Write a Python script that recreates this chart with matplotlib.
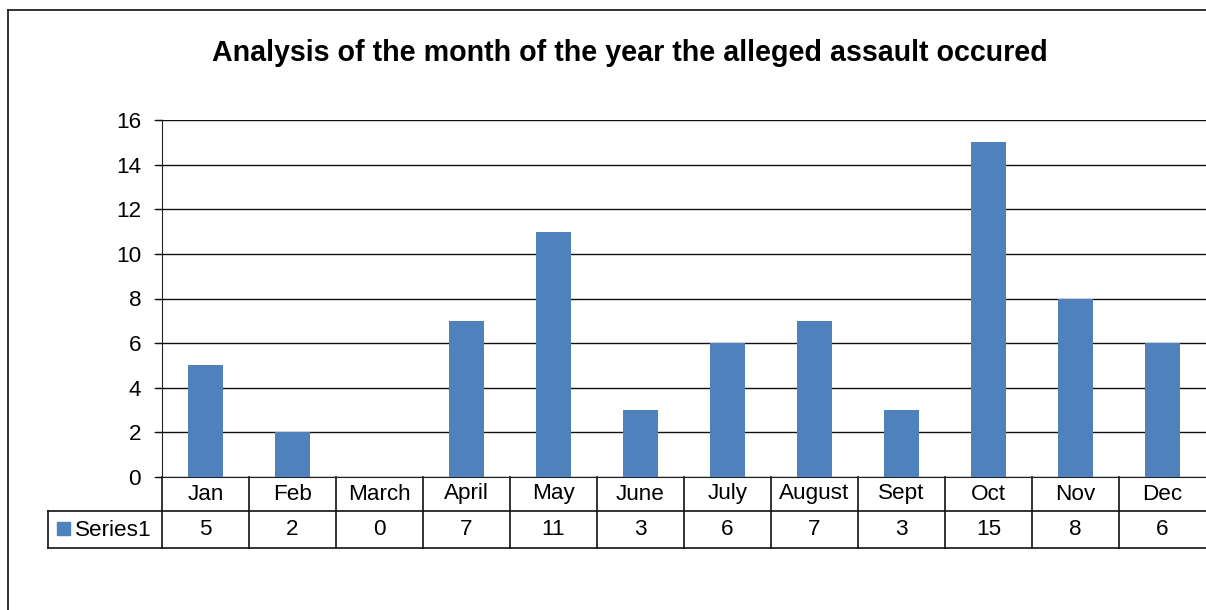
import matplotlib.pyplot as plt
from matplotlib.lines import Line2D
from matplotlib.patches import Rectangle
import matplotlib.transforms as mtransforms

months = ['Jan', 'Feb', 'March', 'April', 'May', 'June',
          'July', 'August', 'Sept', 'Oct', 'Nov', 'Dec']
counts = [5, 2, 0, 7, 11, 3, 6, 7, 3, 15, 8, 6]
series_name = 'Series1'
title = 'Analysis of the month of the year the alleged assault occured'

plt.rcParams['font.family'] = ['Liberation Sans', 'DejaVu Sans']

W, H = 1206, 610
fig = plt.figure(figsize=(W / 100, H / 100), dpi=100)

# outer chart border (right and bottom run off the image)
fig.add_artist(Line2D([7.5 / W, 1.01], [1 - 9.5 / H, 1 - 9.5 / H], color='#222222', lw=1.3))
fig.add_artist(Line2D([7.5 / W, 7.5 / W], [1 - 9.5 / H, -0.01], color='#222222', lw=1.3))

fig.text(630 / W, 1 - 53 / H, title, ha='center', va='center',
         fontsize=20.6, fontweight='bold')

left, right, top, bottom = 162, 1206, 120, 477
ax = fig.add_axes([left / W, 1 - bottom / H, (right - left) / W, (bottom - top) / H])
x = list(range(len(months)))
ax.bar(x, counts, width=0.4, color='#4F81BD', zorder=3)
ax.set_xlim(-0.5, len(months) - 0.5)
ax.set_ylim(0, 16)
ax.set_yticks(range(0, 17, 2))
ax.grid(axis='y', color='#111111', lw=1.0, zorder=0)
ax.set_xticks([])
for s in ['top', 'right']:
    ax.spines[s].set_visible(False)
ax.spines['left'].set_color('#222222')
ax.spines['bottom'].set_color('#222222')
fs = 16.2
ax.tick_params(axis='y', length=6, color='#222222', labelsize=fs, pad=9)

# extend gridlines over the tick marks like Excel
for v in range(0, 17, 2):
    ax.add_line(Line2D([-6 / (right - left), 0], [v, v], color='#111111', lw=1.0,
                       transform=ax.get_yaxis_transform(), clip_on=False))

# data table under the plot
trans = mtransforms.blended_transform_factory(ax.transData, ax.transAxes)
row1 = -(511 - bottom) / (bottom - top)
row2 = -(548 - bottom) / (bottom - top)
key_left = -(left - 48) / (right - left)
lc = '#111111'
ax.add_line(Line2D([key_left, 1.01], [row1, row1], color=lc, lw=1.2,
                   transform=ax.transAxes, clip_on=False))
ax.add_line(Line2D([key_left, 1.01], [row2, row2], color=lc, lw=1.2,
                   transform=ax.transAxes, clip_on=False))
ax.add_line(Line2D([key_left, key_left], [row1, row2], color=lc, lw=1.2,
                   transform=ax.transAxes, clip_on=False))
ax.add_line(Line2D([0, 0], [0, row2], color=lc, lw=1.2,
                   transform=ax.transAxes, clip_on=False))
for i in range(1, len(months)):
    ax.add_line(Line2D([i - 0.5, i - 0.5], [0, row2], color=lc, lw=1.2,
                       transform=trans, clip_on=False))
for i, (m, c) in enumerate(zip(months, counts)):
    ax.text(i, row1 / 2, m, transform=trans, ha='center', va='center', fontsize=fs)
    ax.text(i, (row1 + row2) / 2, str(c), transform=trans, ha='center', va='center', fontsize=fs)

# legend key in the table
key_x = 57 / W
key_y = 1 - 535 / H
fig.add_artist(Rectangle((key_x, key_y), 13 / W, 13 / H, color='#4F81BD'))
fig.text(75 / W, 1 - 530 / H, series_name, ha='left', va='center', fontsize=fs)

fig.savefig('out.png', dpi=100)
